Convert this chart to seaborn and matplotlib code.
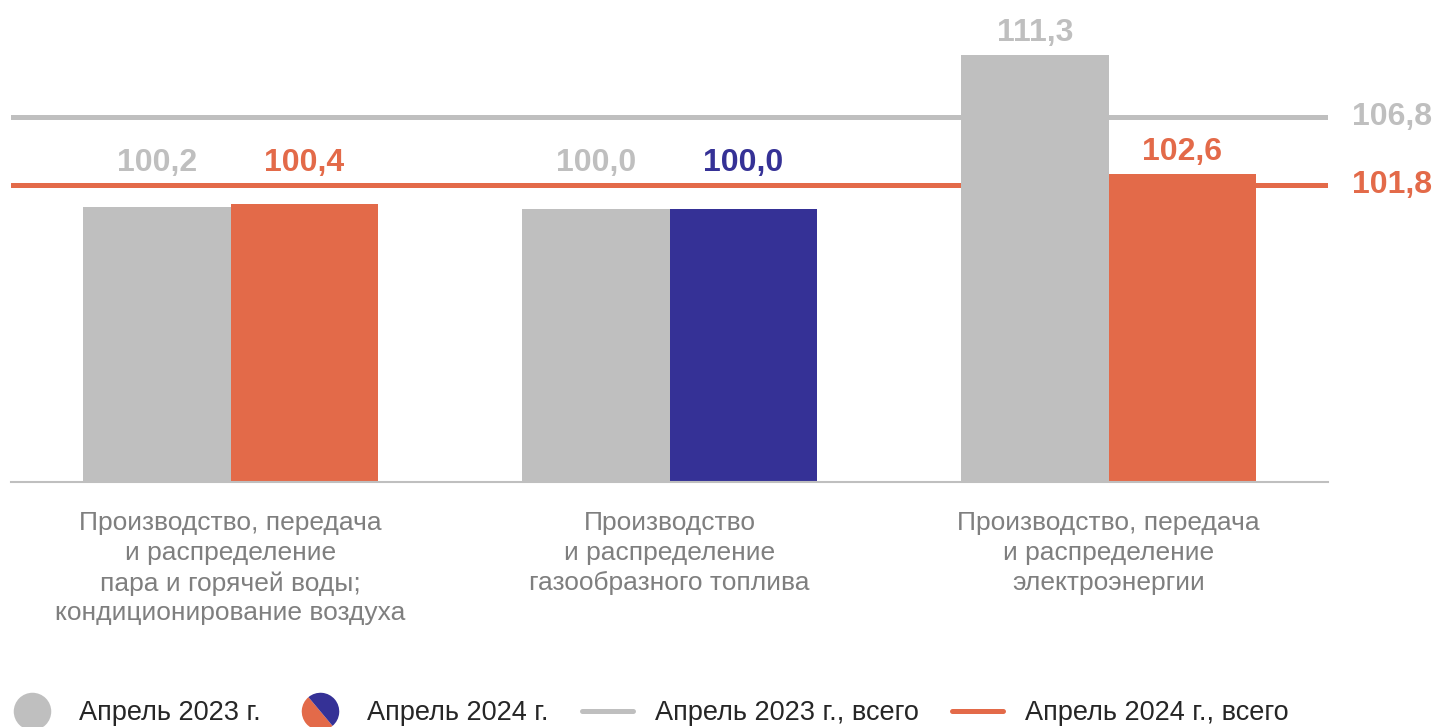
import pandas as pd
import matplotlib.pyplot as plt
import seaborn as sns
from matplotlib.lines import Line2D
from matplotlib.markers import MarkerStyle
from matplotlib.transforms import Affine2D

# Data
categories = [
    "Производство, передача\nи распределение\nпара и горячей воды;\nкондиционирование воздуха",
    "Производство\nи распределение\nгазообразного топлива",
    "Производство, передача\nи распределение\nэлектроэнергии",
]
periods = ["Апрель 2023 г.", "Апрель 2024 г."]
values_2023 = [100.2, 100.0, 111.3]
values_2024 = [100.4, 100.0, 102.6]
total_2023 = 106.8
total_2024 = 101.8
legend_labels = ["Апрель 2023 г.", "Апрель 2024 г.",
                 "Апрель 2023 г., всего", "Апрель 2024 г., всего"]

GRAY = "#BFBFBF"
ORANGE = "#E36A49"
NAVY = "#353196"


def fmt(v):
    return f"{v:.1f}".replace(".", ",")


def plot_chart():
    df = pd.DataFrame({
        "category": categories * 2,
        "period": [periods[0]] * 3 + [periods[1]] * 3,
        "value": values_2023 + values_2024,
    })

    sns.set_theme(style="white")
    plt.rcParams["font.family"] = ["Liberation Sans", "DejaVu Sans"]

    fig = plt.figure(figsize=(14.38, 7.27), dpi=100)
    ax = fig.add_axes([11 / 1438, 245 / 727, 1317 / 1438, 482 / 727])

    sns.barplot(data=df, x="category", y="value", hue="period",
                palette=[GRAY, ORANGE], width=0.67, saturation=1,
                legend=False, ax=ax, zorder=2, linewidth=0)

    # middle 2024 bar is coloured navy in the original
    ax.containers[1][1].set_facecolor(NAVY)

    ax.set_ylim(80, 115.36)
    ax.set_xlim(-0.5, 2.5)

    # total lines behind the bars
    ax.axhline(total_2023, color=GRAY, lw=3.6, zorder=1)
    ax.axhline(total_2024, color=ORANGE, lw=3.6, zorder=1)
    for val, col in [(total_2023, GRAY), (total_2024, ORANGE)]:
        ax.annotate(fmt(val), xy=(1, val), xycoords=("axes fraction", "data"),
                    xytext=(17, 0), textcoords="offset points",
                    ha="left", va="center", fontsize=23, fontweight="bold",
                    color=col, annotation_clip=False)

    # value labels above bars (kept above the 2024 total line)
    label_colors = [[GRAY] * 3, [ORANGE, NAVY, ORANGE]]
    for ci, cont in enumerate(ax.containers):
        vals = values_2023 if ci == 0 else values_2024
        for bi, bar in enumerate(cont):
            v = vals[bi]
            base = max(v, total_2024)
            ax.annotate(fmt(v), xy=(bar.get_x() + bar.get_width() / 2, base),
                        xytext=(0, 10), textcoords="offset points",
                        ha="center", va="baseline", fontsize=23,
                        fontweight="bold", color=label_colors[ci][bi],
                        annotation_clip=False)

    for s in ["top", "left", "right"]:
        ax.spines[s].set_visible(False)
    ax.spines["bottom"].set_color(GRAY)
    ax.spines["bottom"].set_linewidth(1.5)
    ax.set_yticks([])
    ax.set_xlabel("")
    ax.set_ylabel("")
    ax.tick_params(axis="x", length=0, pad=21, labelsize=19, labelcolor="#7F7F7F")
    for lbl in ax.get_xticklabels():
        lbl.set_linespacing(1.31)

    split_marker = MarkerStyle("o", fillstyle="left",
                               transform=Affine2D().rotate_deg(40))
    handles = [
        Line2D([], [], ls="none", marker="o", markersize=27,
               markerfacecolor=GRAY, markeredgecolor="none"),
        Line2D([], [], ls="none", marker=split_marker, fillstyle="left",
               markersize=27, markerfacecolor=ORANGE,
               markerfacecoloralt=NAVY, markeredgecolor="none"),
        Line2D([], [], color=GRAY, lw=3.6),
        Line2D([], [], color=ORANGE, lw=3.6),
    ]
    fig.legend(handles, legend_labels, loc="center left",
               bbox_to_anchor=(6 / 1438, 1 - 713 / 727), ncol=4,
               frameon=False, fontsize=19.5, handlelength=1.9,
               handletextpad=0.8, columnspacing=1.22, borderpad=0,
               borderaxespad=0, labelcolor="#262626")

    fig.savefig("out.png", dpi=100)


if __name__ == "__main__":
    plot_chart()
